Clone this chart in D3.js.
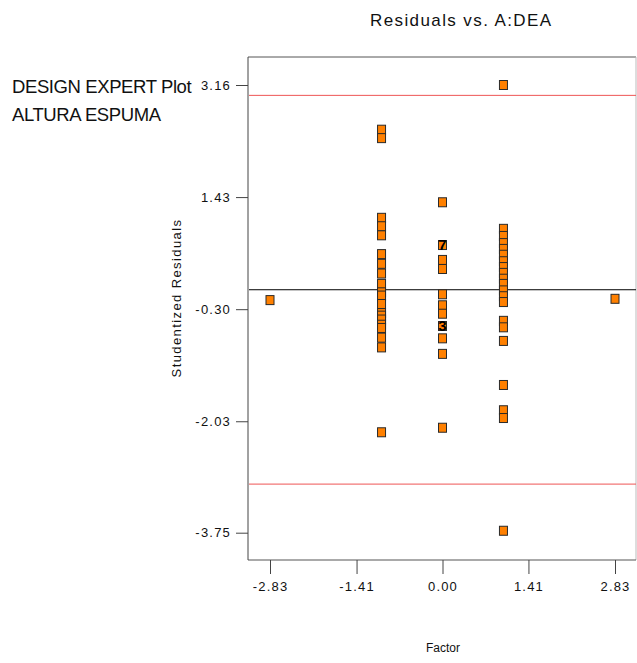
<!DOCTYPE html>
<html><head><meta charset="utf-8">
<script src="https://cdn.jsdelivr.net/npm/d3@7"></script>
<style>body{margin:0;background:#fff;} svg{display:block;font-family:"Liberation Sans",Arial,sans-serif;}</style>
</head><body>
<script>
// ---- data ----
const xTickValues = [-2.83, -1.41, 0.00, 1.41, 2.83];
const yTickValues = [3.16, 1.43, -0.30, -2.03, -3.75];
const factorLevels = [-2.83, -1, 0, 1, 2.83];
const residualsAtNeg283 = [-0.16];
const residualsAtNeg1 = [2.47, 2.34, 1.11, 0.98, 0.84, 0.55, 0.40, 0.25, 0.09, -0.04, -0.09, -0.22, -0.36, -0.40, -0.46, -0.54, -0.59, -0.74, -0.89, -2.20];
const residualsAt0 = [1.35, 0.69, 0.46, 0.32, -0.07, -0.24, -0.37, -0.56, -0.75, -0.99, -2.13];
const residualsAt1 = [3.16, 0.94, 0.83, 0.72, 0.63, 0.54, 0.44, 0.35, 0.26, 0.17, 0.09, -0.01, -0.10, -0.19, -0.48, -0.58, -0.79, -1.47, -1.86, -1.98, -3.72];
const residualsAt283 = [-0.14];
const countLabels = [{x: 0, y: 0.69, label: "7"}, {x: 0, y: -0.56, label: "3"}];
const limitLines = [3.0, -3.0];
const zeroLine = [0];

const W = 637, H = 663;
const box = {l: 248, r: 636, t: 57, b: 560};
const svg = d3.select("body").append("svg").attr("width", W).attr("height", H);

const x = d3.scaleLinear().domain([-2.83, 2.83]).range([270, 615]);
const y = d3.scaleLinear().domain([-3.75, 3.16]).range([532.7, 85]);
const fmt = d => d.toFixed(2);

// box
svg.append("line").attr("x1", box.l).attr("x2", box.r).attr("y1", box.t).attr("y2", box.t).attr("stroke", "#555");
svg.append("line").attr("x1", box.r).attr("x2", box.r).attr("y1", box.t).attr("y2", box.b).attr("stroke", "#bbb");
svg.append("line").attr("x1", box.l).attr("x2", box.r).attr("y1", box.b).attr("y2", box.b).attr("stroke", "#555");
svg.append("line").attr("x1", box.l).attr("x2", box.l).attr("y1", box.t).attr("y2", box.b).attr("stroke", "#444");

// axes
const yAxis = svg.append("g").attr("transform", `translate(${box.l},0)`)
  .call(d3.axisLeft(y).tickValues(yTickValues).tickFormat(fmt).tickSize(12).tickPadding(5));
const xAxis = svg.append("g").attr("transform", `translate(0,${box.b})`)
  .call(d3.axisBottom(x).tickValues(xTickValues).tickFormat(fmt).tickSize(14).tickPadding(8));
[yAxis, xAxis].forEach(a => {
  a.select(".domain").remove();
  a.selectAll(".tick line").attr("stroke", "#444");
  a.selectAll(".tick text").attr("fill", "#111").style("font-size", "13px").style("letter-spacing", "1.2px")
    .style("font-family", "'Liberation Sans',Arial,sans-serif");
});

// reference lines
svg.selectAll(".limit").data(limitLines).enter().append("line")
  .attr("x1", box.l + 1).attr("x2", box.r).attr("y1", d => y(d)).attr("y2", d => y(d))
  .attr("stroke", "#ee5555").attr("stroke-width", 1);
svg.selectAll(".zero").data(zeroLine).enter().append("line")
  .attr("x1", box.l + 1).attr("x2", box.r).attr("y1", d => y(d)).attr("y2", d => y(d))
  .attr("stroke", "#000").attr("stroke-width", 1);

// points
const columns = [residualsAtNeg283, residualsAtNeg1, residualsAt0, residualsAt1, residualsAt283];
const pts = [];
columns.forEach((col, i) => col.forEach(v => pts.push({x: factorLevels[i], y: v})));
svg.selectAll(".pt").data(pts).enter().append("rect")
  .attr("x", d => x(d.x) - 4).attr("y", d => y(d.y) - 4.5)
  .attr("width", 8).attr("height", 9)
  .attr("fill", "#ff8000").attr("stroke", "#2a2a2a").attr("stroke-width", 1);

svg.selectAll(".cnt").data(countLabels).enter().append("text")
  .attr("x", d => x(d.x)).attr("y", d => y(d.y) + 5)
  .attr("text-anchor", "middle").style("font-size", "15px").style("font-weight", "bold")
  .attr("fill", "#000").text(d => d.label);

// texts
svg.append("text").attr("x", 370).attr("y", 26).style("font-size", "17px").style("letter-spacing", "1.4px")
  .attr("fill", "#111").text("Residuals vs. A:DEA");
svg.append("text").attr("x", 12).attr("y", 93).style("font-size", "18.5px").style("letter-spacing", "-0.4px")
  .attr("fill", "#111").text("DESIGN EXPERT Plot");
svg.append("text").attr("x", 12).attr("y", 121).style("font-size", "18.5px").style("letter-spacing", "-0.4px")
  .attr("fill", "#111").text("ALTURA ESPUMA");
svg.append("text").attr("x", 443).attr("y", 652).attr("text-anchor", "middle").style("font-size", "12px")
  .attr("fill", "#111").text("Factor");
svg.append("text").attr("transform", "translate(181,298) rotate(-90)").attr("text-anchor", "middle")
  .style("font-size", "13px").style("letter-spacing", "1.4px").attr("fill", "#111").text("Studentized Residuals");
</script>
</body></html>
